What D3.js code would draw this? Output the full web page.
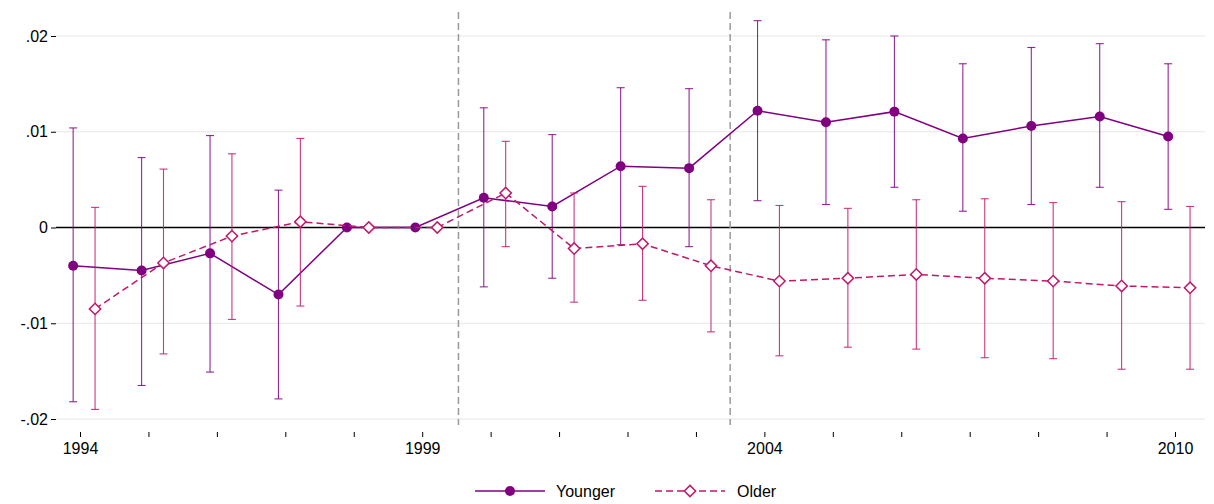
<!DOCTYPE html>
<html><head><meta charset="utf-8">
<script src="https://cdn.jsdelivr.net/npm/d3@7"></script>
<style>body{margin:0;background:#fff;font-family:Arial,"Liberation Sans",sans-serif}</style>
</head><body>
<script>
var years = [1994,1995,1996,1997,1998,1999,2000,2001,2002,2003,2004,2005,2006,2007,2008,2009,2010];
var younger = [-.0040,-.0045,-.0027,-.0070,0,0,.0031,.0022,.0064,.0062,.0122,.0110,.0121,.0093,.0106,.0116,.0095];
var youngerHi = [.0104,.0073,.0096,.0039,null,null,.0125,.0097,.0146,.0145,.0216,.0196,.0200,.0171,.0188,.0192,.0171];
var youngerLo = [-.0182,-.0165,-.0151,-.0179,null,null,-.0062,-.0053,-.0018,-.0020,.0028,.0024,.0042,.0017,.0024,.0042,.0019];
var older = [-.0085,-.0037,-.0009,.0006,0,0,.0036,-.0022,-.0017,-.0040,-.0056,-.0053,-.0049,-.0053,-.0056,-.0061,-.0063];
var olderHi = [.0021,.0061,.0077,.0093,null,null,.0090,.0036,.0043,.0029,.0023,.0020,.0029,.0030,.0026,.0027,.0022];
var olderLo = [-.0190,-.0132,-.0096,-.0082,null,null,-.0020,-.0078,-.0076,-.0109,-.0134,-.0125,-.0127,-.0136,-.0137,-.0148,-.0148];
var yTicks = [-.02,-.01,0,.01,.02];
var yTickLabels = ["-.02","-.01","0",".01",".02"];
var xLabels = [1994,1999,2004,2010];
var breaks = [1999.53,2003.5];

var W = 1214, H = 504;
var svg = d3.select("body").append("svg").attr("width", W).attr("height", H);
var x = d3.scaleLinear().domain([1994,2010]).range([80,1175]);
var y = d3.scaleLinear().domain([-.02,.02]).range([419,36]);
var cY = "#800080", cO = "#c0186a";

svg.selectAll(".grid").data(yTicks).enter().append("line")
  .attr("x1",56).attr("x2",1205).attr("y1",d=>y(d)).attr("y2",d=>y(d))
  .attr("stroke","#e6e6e6").attr("stroke-width",1);
svg.append("line").attr("x1",56).attr("x2",1205).attr("y1",y(0)).attr("y2",y(0)).attr("stroke","#000").attr("stroke-width",1.3);

var yAxis = svg.append("g").attr("transform","translate(56,0)")
  .call(d3.axisLeft(y).tickValues(yTicks).tickFormat((d,i)=>yTickLabels[i]).tickSize(5));
yAxis.select(".domain").remove();
yAxis.selectAll("text").attr("font-size",16).attr("fill","#000").attr("font-family","Arial");

var xAxis = svg.append("g").attr("transform","translate(0,432)")
  .call(d3.axisBottom(x).tickValues(years).tickFormat(d=>xLabels.indexOf(d)>=0?d:"").tickSize(5));
xAxis.select(".domain").remove();
xAxis.selectAll("text").attr("font-size",16).attr("fill","#000").attr("font-family","Arial").attr("dy","0.9em");

svg.selectAll(".brk").data(breaks).enter().append("line")
  .attr("x1",d=>x(d)).attr("x2",d=>x(d)).attr("y1",12).attr("y2",425)
  .attr("stroke","#999").attr("stroke-width",1.5).attr("stroke-dasharray","7,4");

function series(vals, hi, lo, off, col, dash, diamond){
  var pts = years.map((yr,i)=>({x:x(yr+off), v:vals[i], hi:hi[i], lo:lo[i]}));
  var ci = pts.filter(p=>p.hi!==null);
  svg.selectAll(null).data(ci).enter().append("line")
    .attr("x1",p=>p.x).attr("x2",p=>p.x).attr("y1",p=>y(p.hi)).attr("y2",p=>y(p.lo))
    .attr("stroke",col).attr("stroke-width",1.1).attr("stroke-opacity",0.85);
  svg.selectAll(null).data(ci.flatMap(p=>[[p.x,p.hi],[p.x,p.lo]])).enter().append("line")
    .attr("x1",p=>p[0]-4).attr("x2",p=>p[0]+4).attr("y1",p=>y(p[1])).attr("y2",p=>y(p[1]))
    .attr("stroke",col).attr("stroke-width",1.1).attr("stroke-opacity",0.85);
  svg.append("path").datum(pts).attr("fill","none").attr("stroke",col).attr("stroke-width",1.5)
    .attr("stroke-dasharray",dash).attr("d",d3.line().x(p=>p.x).y(p=>y(p.v)));
  if(diamond){
    svg.selectAll(null).data(pts).enter().append("path")
      .attr("d",d3.symbol(d3.symbolSquare,64)())
      .attr("transform",p=>"translate("+p.x+","+y(p.v)+") rotate(45)")
      .attr("fill","#fff").attr("stroke",col).attr("stroke-width",1.5);
  } else {
    svg.selectAll(null).data(pts).enter().append("circle")
      .attr("cx",p=>p.x).attr("cy",p=>y(p.v)).attr("r",5).attr("fill",col);
  }
}
series(younger,youngerHi,youngerLo,-0.1,cY,null,false);
series(older,olderHi,olderLo,0.22,cO,"7,4",true);

// legend
var lg = svg.append("g").attr("transform","translate(0,491)");
lg.append("line").attr("x1",475).attr("x2",545).attr("stroke",cY).attr("stroke-width",1.5);
lg.append("circle").attr("cx",510).attr("r",5).attr("fill",cY);
lg.append("text").attr("x",556).attr("y",6).attr("font-size",16).text("Younger");
lg.append("line").attr("x1",655).attr("x2",725).attr("stroke",cO).attr("stroke-width",1.5).attr("stroke-dasharray","7,4");
lg.append("path").attr("d",d3.symbol(d3.symbolSquare,64)()).attr("transform","translate(690,0) rotate(45)")
  .attr("fill","#fff").attr("stroke",cO).attr("stroke-width",1.5);
lg.append("text").attr("x",737).attr("y",6).attr("font-size",16).text("Older");
</script>
</body></html>
